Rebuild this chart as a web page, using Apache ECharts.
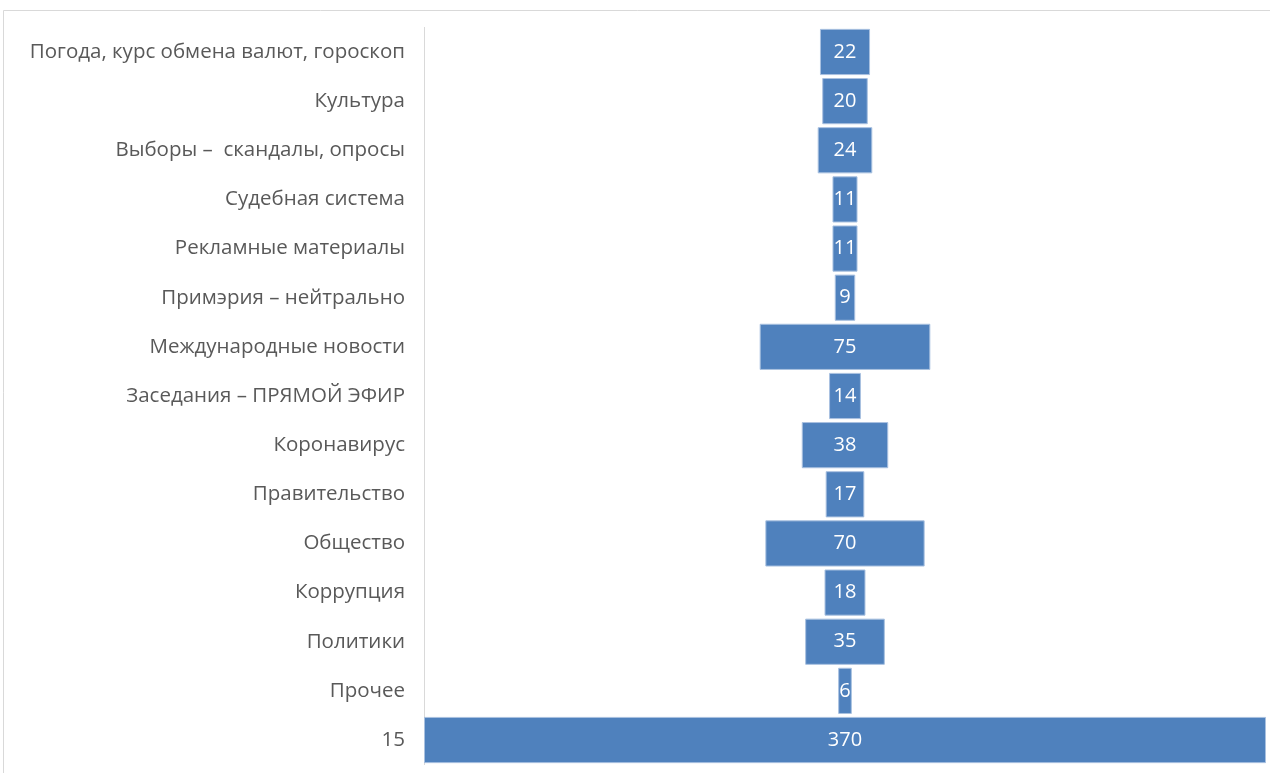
<!DOCTYPE html>
<html><head><meta charset="utf-8">
<script src="https://cdn.jsdelivr.net/npm/echarts@6/dist/echarts.min.js"></script>
<style>html,body{margin:0;padding:0;background:#fff}#c{width:1270px;height:773px}</style>
</head><body><div id="c"></div>
<script>
const categories = ['Погода, курс обмена валют, гороскоп','Культура','Выборы –  скандалы, опросы','Судебная система','Рекламные материалы','Примэрия – нейтрально','Международные новости','Заседания – ПРЯМОЙ ЭФИР','Коронавирус','Правительство','Общество','Коррупция','Политики','Прочее','15'];
const values = [22,20,24,11,11,9,75,14,38,17,70,18,35,6,370];
const maxValue = 370;
const offsets = values.map(v => (maxValue - v) / 2);
const chart = echarts.init(document.getElementById('c'), null, {renderer:'canvas'});
chart.setOption({
  animation:false,
  backgroundColor:'#fff',
  graphic:[{type:'rect',shape:{x:3.5,y:10.5,width:1300,height:800},style:{fill:'none',stroke:'#d9d9d9',lineWidth:1},z:-1}],
  grid:{left:424,right:4,top:27.4,bottom:8.4,containLabel:false},
  xAxis:{type:'value',min:0,max:maxValue,show:false},
  yAxis:{type:'category',data:categories,inverse:true,
    axisLine:{show:true,lineStyle:{color:'#d9d9d9',width:1}},
    axisTick:{show:false},
    axisLabel:{color:'#595959',fontSize:20.5,fontFamily:'Open Sans',margin:19,padding:[4,0,0,0]}},
  series:[
    {type:'bar',stack:'s',data:offsets,itemStyle:{color:'transparent'},barCategoryGap:'6%',silent:true},
    {type:'bar',stack:'s',data:values,barCategoryGap:'6%',
     itemStyle:{color:'#4F81BD',borderColor:'#a9c1e0',borderWidth:1},
     label:{show:true,position:'inside',color:'#fff',fontSize:20,fontFamily:'Open Sans',padding:[3,0,0,0]}}
  ]
});
</script></body></html>
